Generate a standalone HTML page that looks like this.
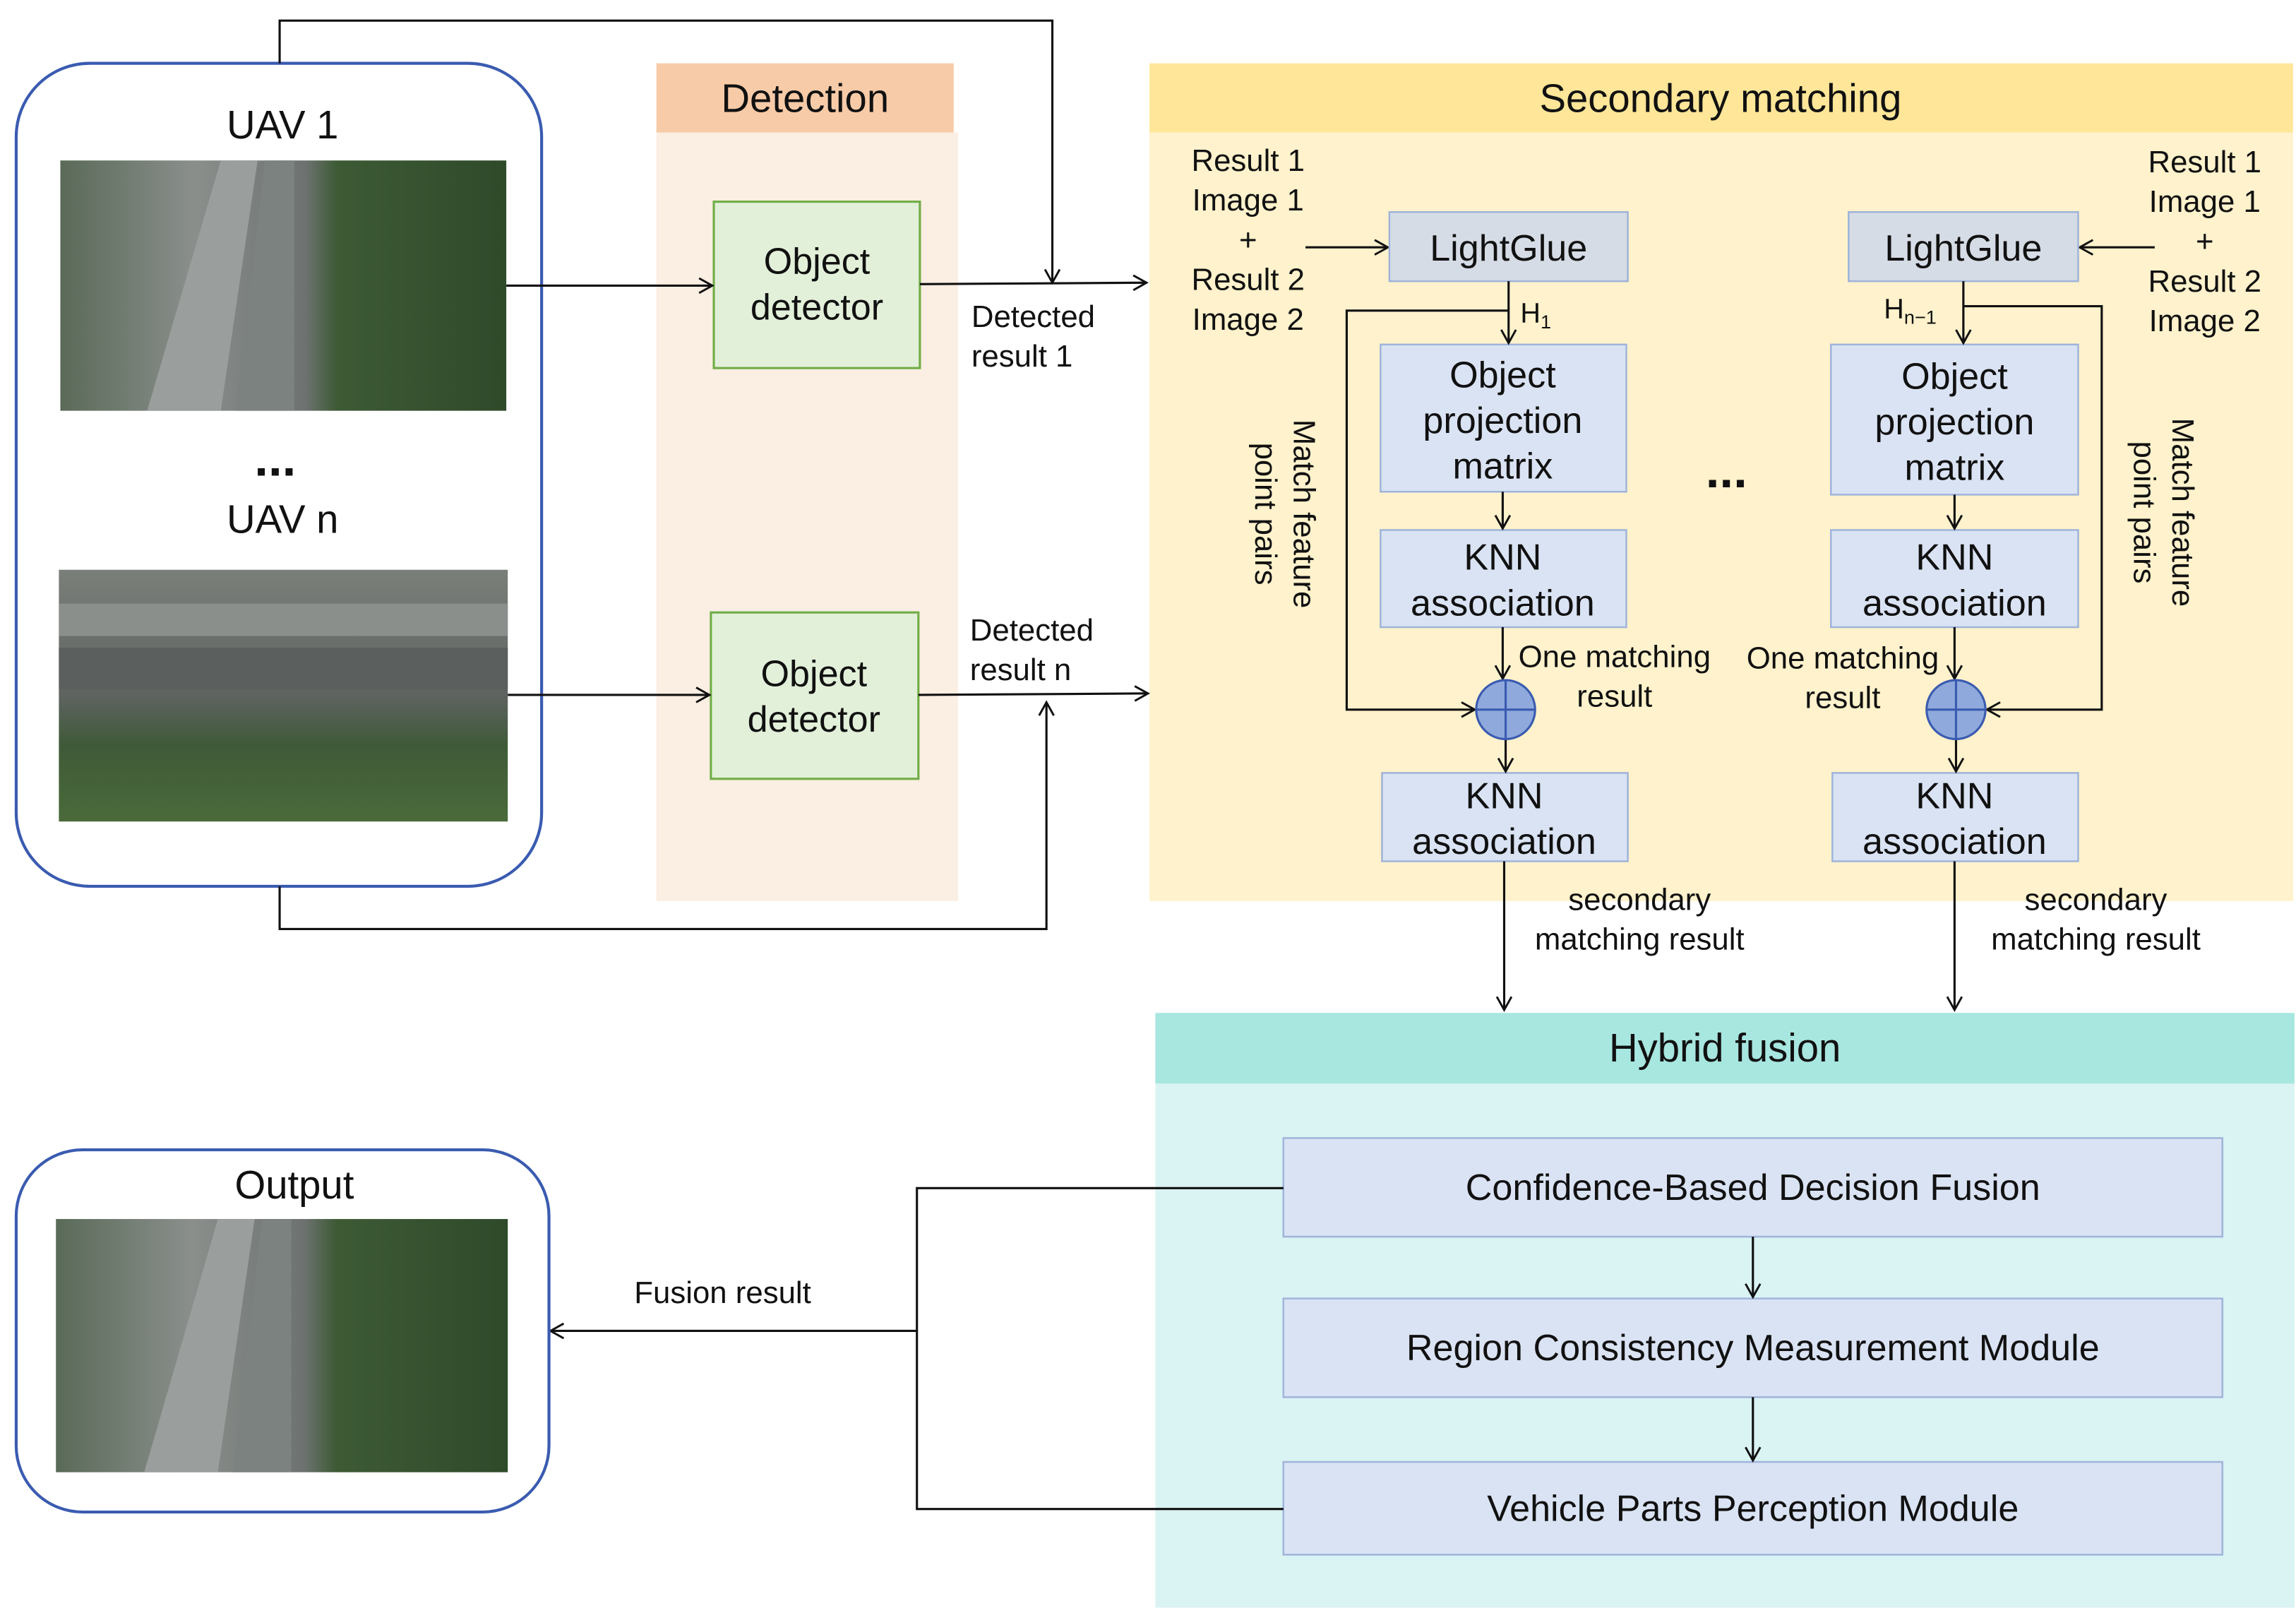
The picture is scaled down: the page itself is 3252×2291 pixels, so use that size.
<!DOCTYPE html>
<html><head><meta charset="utf-8"><style>
html,body{margin:0;padding:0;background:#fff}
svg{display:block}
text{font-family:"Liberation Sans",Arial,sans-serif;fill:#111}
</style></head><body>
<svg width="3252" height="2291" viewBox="0 0 1560 1099" xmlns="http://www.w3.org/2000/svg">
<defs>
<marker id="a" markerWidth="12" markerHeight="12" refX="10" refY="6" orient="auto" markerUnits="userSpaceOnUse">
<path d="M1,1 L10,6 L1,11" fill="none" stroke="#111" stroke-width="1.4"/></marker>
<linearGradient id="road" x1="0" y1="0" x2="1" y2="0">
<stop offset="0" stop-color="#5a6a58"/><stop offset="0.3" stop-color="#8a8f8c"/><stop offset="0.55" stop-color="#6d7270"/><stop offset="0.62" stop-color="#3d5a35"/><stop offset="1" stop-color="#2f4a2a"/></linearGradient>
<linearGradient id="road2" x1="0" y1="0" x2="0" y2="1">
<stop offset="0" stop-color="#7a7f7a"/><stop offset="0.5" stop-color="#5e6360"/><stop offset="0.7" stop-color="#3f5a38"/><stop offset="1" stop-color="#4a6a3a"/></linearGradient>
</defs>

<!-- UAV box -->
<rect x="11" y="43" width="357" height="559" rx="50" fill="#fff" stroke="#3a5bb0" stroke-width="2"/>
<text x="192" y="94" font-size="27" text-anchor="middle">UAV 1</text>
<rect x="41" y="109" width="303" height="170" fill="url(#road)"/>
<path d="M100,279 L150,109 L175,109 L150,279Z" fill="#9a9e9c"/>
<path d="M160,279 L180,109 L200,109 L200,279Z" fill="#7c8280"/>
<text x="187" y="323" font-size="34" text-anchor="middle" font-weight="bold">...</text>
<text x="192" y="362" font-size="27" text-anchor="middle">UAV n</text>
<rect x="40" y="387" width="305" height="171" fill="url(#road2)"/>
<rect x="40" y="440" width="305" height="28" fill="#5b5f5d"/>
<rect x="40" y="410" width="305" height="22" fill="#8b8f8c"/>

<!-- top loop -->
<path d="M190,43 V14 H715 V192" fill="none" stroke="#111" stroke-width="1.5" marker-end="url(#a)"/>
<path d="M190,602 V631 H711 V477" fill="none" stroke="#111" stroke-width="1.5" marker-end="url(#a)"/>

<!-- Detection -->
<rect x="446" y="90" width="205" height="522" fill="#fbeee2"/>
<rect x="446" y="43" width="202" height="47" fill="#f8cba8"/>
<text x="547" y="76" font-size="27" text-anchor="middle">Detection</text>
<rect x="485" y="137" width="140" height="113" fill="#e2f0d9" stroke="#70ad47" stroke-width="1.5"/>
<text x="555" y="186" font-size="25" text-anchor="middle">Object</text>
<text x="555" y="217" font-size="25" text-anchor="middle">detector</text>
<rect x="483" y="416" width="141" height="113" fill="#e2f0d9" stroke="#70ad47" stroke-width="1.5"/>
<text x="553" y="466" font-size="25" text-anchor="middle">Object</text>
<text x="553" y="497" font-size="25" text-anchor="middle">detector</text>
<line x1="344" y1="194" x2="484" y2="194" stroke="#111" stroke-width="1.5" marker-end="url(#a)"/>
<line x1="345" y1="472" x2="482" y2="472" stroke="#111" stroke-width="1.5" marker-end="url(#a)"/>

<!-- Secondary matching -->
<rect x="781" y="90" width="777" height="522" fill="#fff2cc"/>
<rect x="781" y="43" width="777" height="47" fill="#ffe699"/>
<text x="1169" y="76" font-size="27" text-anchor="middle">Secondary matching</text>

<line x1="625" y1="193" x2="779" y2="192" stroke="#111" stroke-width="1.5" marker-end="url(#a)"/>
<line x1="624" y1="472" x2="780" y2="471" stroke="#111" stroke-width="1.5" marker-end="url(#a)"/>
<text x="660" y="222" font-size="21">Detected</text>
<text x="660" y="249" font-size="21">result 1</text>
<text x="659" y="435" font-size="21">Detected</text>
<text x="659" y="462" font-size="21">result n</text>

<g font-size="21" text-anchor="middle">
<text x="848" y="116">Result 1</text><text x="848" y="143">Image 1</text><text x="848" y="170">+</text>
<text x="848" y="197">Result 2</text><text x="848" y="224">Image 2</text>
<text x="1498" y="117">Result 1</text><text x="1498" y="144">Image 1</text><text x="1498" y="171">+</text>
<text x="1498" y="198">Result 2</text><text x="1498" y="225">Image 2</text>
</g>
<line x1="887" y1="168" x2="943" y2="168" stroke="#111" stroke-width="1.5" marker-end="url(#a)"/>
<line x1="1464" y1="168" x2="1413" y2="168" stroke="#111" stroke-width="1.5" marker-end="url(#a)"/>

<g stroke="#9fb4da" stroke-width="1.2">
<rect x="944" y="144" width="162" height="47" fill="#d6dce5"/>
<rect x="1256" y="144" width="156" height="47" fill="#d6dce5"/>
<rect x="938" y="234" width="167" height="100" fill="#dae3f3"/>
<rect x="1244" y="234" width="168" height="102" fill="#dae3f3"/>
<rect x="938" y="360" width="167" height="66" fill="#dae3f3"/>
<rect x="1244" y="360" width="168" height="66" fill="#dae3f3"/>
<rect x="939" y="525" width="167" height="60" fill="#dae3f3"/>
<rect x="1245" y="525" width="167" height="60" fill="#dae3f3"/>
</g>
<g font-size="25" text-anchor="middle">
<text x="1025" y="177">LightGlue</text><text x="1334" y="177">LightGlue</text>
<text x="1021" y="263">Object</text><text x="1021" y="294">projection</text><text x="1021" y="325">matrix</text>
<text x="1328" y="264">Object</text><text x="1328" y="295">projection</text><text x="1328" y="326">matrix</text>
<text x="1021" y="387">KNN</text><text x="1021" y="418">association</text>
<text x="1328" y="387">KNN</text><text x="1328" y="418">association</text>
<text x="1022" y="549">KNN</text><text x="1022" y="580">association</text>
<text x="1328" y="549">KNN</text><text x="1328" y="580">association</text>
</g>
<text x="1173" y="331" font-size="34" text-anchor="middle" font-weight="bold">...</text>

<g stroke="#111" stroke-width="1.5" fill="none">
<line x1="1025" y1="191" x2="1025" y2="233" marker-end="url(#a)"/>
<line x1="1334" y1="191" x2="1334" y2="233" marker-end="url(#a)"/>
<line x1="1021" y1="334" x2="1021" y2="359" marker-end="url(#a)"/>
<line x1="1328" y1="336" x2="1328" y2="359" marker-end="url(#a)"/>
<line x1="1021" y1="426" x2="1021" y2="461" marker-end="url(#a)"/>
<line x1="1328" y1="426" x2="1328" y2="461" marker-end="url(#a)"/>
<line x1="1023" y1="502" x2="1023" y2="524" marker-end="url(#a)"/>
<line x1="1329" y1="502" x2="1329" y2="524" marker-end="url(#a)"/>
<path d="M1025,211 H915 V482 H1002" marker-end="url(#a)"/>
<path d="M1334,208 H1428 V482 H1350" marker-end="url(#a)"/>
<line x1="1022" y1="585" x2="1022" y2="686" marker-end="url(#a)"/>
<line x1="1328" y1="585" x2="1328" y2="686" marker-end="url(#a)"/>
</g>
<g stroke="#3a5bb0" stroke-width="1.5" fill="#8fa9dc">
<circle cx="1023" cy="482" r="20"/><circle cx="1329" cy="482" r="20"/>
</g>
<g stroke="#3a5bb0" stroke-width="1.5">
<line x1="1003" y1="482" x2="1043" y2="482"/><line x1="1023" y1="462" x2="1023" y2="502"/>
<line x1="1309" y1="482" x2="1349" y2="482"/><line x1="1329" y1="462" x2="1329" y2="502"/>
</g>
<text x="1033" y="219" font-size="19">H<tspan font-size="13" dy="4">1</tspan></text>
<text x="1280" y="216" font-size="19">H<tspan font-size="13" dy="4">n−1</tspan></text>
<g font-size="21" text-anchor="middle">
<text x="1097" y="453">One matching</text><text x="1097" y="480">result</text>
<text x="1252" y="454">One matching</text><text x="1252" y="481">result</text>
<text x="1114" y="618">secondary</text><text x="1114" y="645">matching result</text>
<text x="1424" y="618">secondary</text><text x="1424" y="645">matching result</text>
</g>
<text transform="translate(879,349) rotate(90)" font-size="21" text-anchor="middle">Match feature</text>
<text transform="translate(853,349) rotate(90)" font-size="21" text-anchor="middle">point pairs</text>
<text transform="translate(1476,348) rotate(90)" font-size="21" text-anchor="middle">Match feature</text>
<text transform="translate(1450,348) rotate(90)" font-size="21" text-anchor="middle">point pairs</text>

<!-- Hybrid fusion -->
<rect x="785" y="736" width="774" height="356" fill="#daf3f3"/>
<rect x="785" y="688" width="774" height="48" fill="#a8e6e0"/>
<text x="1172" y="721" font-size="27" text-anchor="middle">Hybrid fusion</text>
<g stroke="#9fb4da" stroke-width="1.2" fill="#dae3f3">
<rect x="872" y="773" width="638" height="67"/>
<rect x="872" y="882" width="638" height="67"/>
<rect x="872" y="993" width="638" height="63"/>
</g>
<g font-size="25" text-anchor="middle">
<text x="1191" y="815">Confidence-Based Decision Fusion</text>
<text x="1191" y="924">Region Consistency Measurement Module</text>
<text x="1191" y="1033">Vehicle Parts Perception Module</text>
</g>
<g stroke="#111" stroke-width="1.5" fill="none">
<line x1="1191" y1="840" x2="1191" y2="881" marker-end="url(#a)"/>
<line x1="1191" y1="949" x2="1191" y2="992" marker-end="url(#a)"/>
<path d="M872,807 H623 V1025 H872"/>
<line x1="623" y1="904" x2="374" y2="904" marker-end="url(#a)"/>
</g>
<text x="491" y="885" font-size="21" text-anchor="middle">Fusion result</text>

<!-- Output -->
<rect x="11" y="781" width="362" height="246" rx="45" fill="#fff" stroke="#3a5bb0" stroke-width="2"/>
<text x="200" y="814" font-size="27" text-anchor="middle">Output</text>
<rect x="38" y="828" width="307" height="172" fill="url(#road)"/>
<path d="M98,1000 L148,828 L173,828 L148,1000Z" fill="#9a9e9c"/>
<path d="M158,1000 L178,828 L198,828 L198,1000Z" fill="#7c8280"/>
</svg>
</body></html>
